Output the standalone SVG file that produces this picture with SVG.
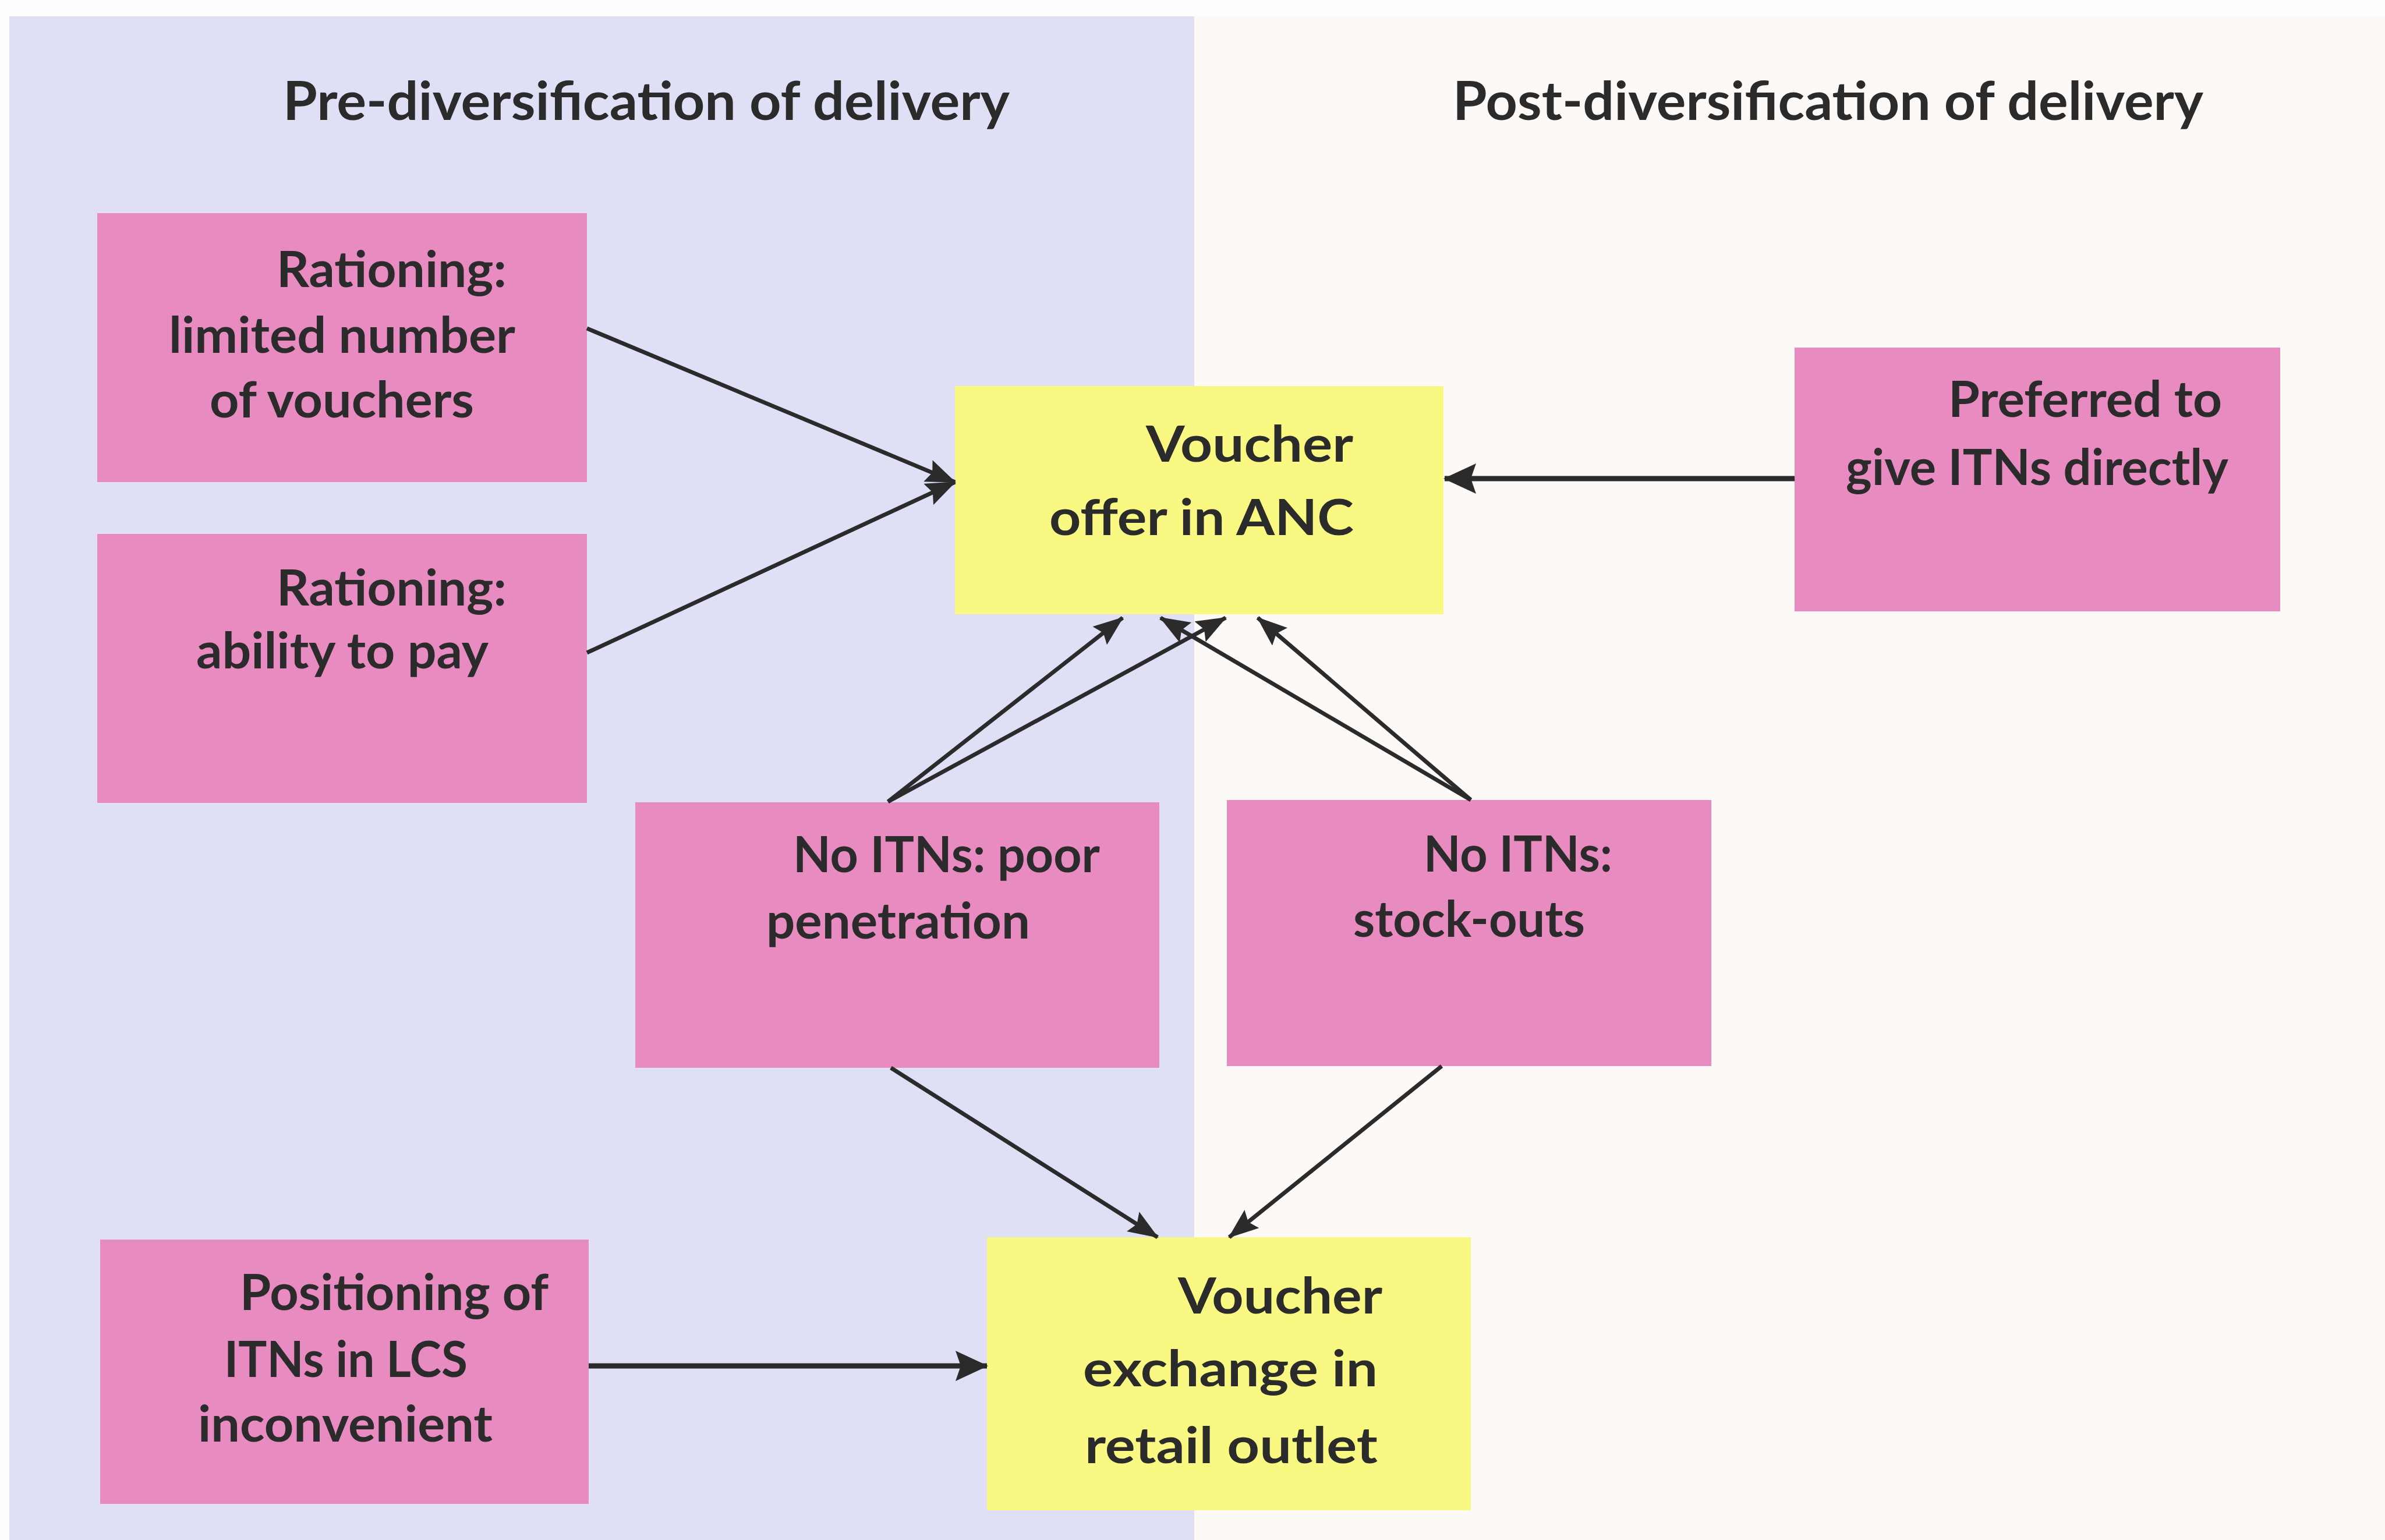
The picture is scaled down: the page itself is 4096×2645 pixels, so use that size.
<svg xmlns="http://www.w3.org/2000/svg" width="4096" height="2645" viewBox="0 0 4096 2645">
  <style>
    .pink { fill: #e88bc1; }
    .yellow { fill: #f9f883; }
    .lbl { font-family: Lato, "Liberation Sans", sans-serif; font-weight: 700; font-size: 87px; fill: #2b2b2b; }
    .title { font-family: Lato, "Liberation Sans", sans-serif; font-weight: 700; font-size: 91px; fill: #2b2b2b; }
    .edge { stroke: #2b2b2b; stroke-width: 7; fill: none; marker-end: url(#ah); }
    .edge.heavy { stroke-width: 9; marker-end: url(#ahL); }
  </style>
  <defs>
    <marker id="ah" markerUnits="userSpaceOnUse" markerWidth="52" markerHeight="40" viewBox="0 0 52 40" refX="50" refY="20" orient="auto">
      <path d="M0,0 L52,20 L0,40 L8,20 z" fill="#2b2b2b"/>
    </marker>
    <marker id="ahL" markerUnits="userSpaceOnUse" markerWidth="56" markerHeight="52" viewBox="0 0 56 52" refX="54" refY="26" orient="auto">
      <path d="M0,0 L56,26 L0,52 L9,26 z" fill="#2b2b2b"/>
    </marker>
  </defs>

  <!-- page and the two panels -->
  <rect x="0" y="0" width="4096" height="2645" fill="#fdfdfd"/>
  <rect x="16" y="28" width="2035" height="2617" fill="#dfe0f6"/>
  <rect x="2051" y="28" width="2045" height="2617" fill="#fcf9f6"/>

  <!-- panel headings -->
  <g id="headings">
    <text class="title" x="486" y="206" textLength="1248" lengthAdjust="spacingAndGlyphs">Pre-diversification of delivery</text>
    <text class="title" x="2495" y="206" textLength="1289" lengthAdjust="spacingAndGlyphs">Post-diversification of delivery</text>
  </g>

  <g id="rationing-vouchers">
    <rect class="pink" x="167" y="366" width="841" height="462"/>
    <text class="lbl" x="475" y="493" textLength="395" lengthAdjust="spacingAndGlyphs">Rationing:</text>
    <text class="lbl" x="290" y="606" textLength="595" lengthAdjust="spacingAndGlyphs">limited number</text>
    <text class="lbl" x="360" y="717" textLength="454" lengthAdjust="spacingAndGlyphs">of vouchers</text>
  </g>

  <g id="rationing-pay">
    <rect class="pink" x="167" y="917" width="841" height="462"/>
    <text class="lbl" x="475" y="1040" textLength="395" lengthAdjust="spacingAndGlyphs">Rationing:</text>
    <text class="lbl" x="337" y="1148" textLength="502" lengthAdjust="spacingAndGlyphs">ability to pay</text>
  </g>

  <g id="voucher-anc">
    <rect class="yellow" x="1640" y="663" width="839" height="392"/>
    <text class="lbl" x="1968" y="793" textLength="356" lengthAdjust="spacingAndGlyphs">Voucher</text>
    <text class="lbl" x="1802" y="919" textLength="523" lengthAdjust="spacingAndGlyphs">offer in ANC</text>
  </g>

  <g id="preferred-direct">
    <rect class="pink" x="3082" y="597" width="834" height="453"/>
    <text class="lbl" x="3346" y="716" textLength="470" lengthAdjust="spacingAndGlyphs">Preferred to</text>
    <text class="lbl" x="3170" y="833" textLength="657" lengthAdjust="spacingAndGlyphs">give ITNs directly</text>
  </g>

  <g id="no-itns-penetration">
    <rect class="pink" x="1091" y="1378" width="900" height="456"/>
    <text class="lbl" x="1362" y="1498" textLength="527" lengthAdjust="spacingAndGlyphs">No ITNs: poor</text>
    <text class="lbl" x="1316" y="1612" textLength="453" lengthAdjust="spacingAndGlyphs">penetration</text>
  </g>

  <g id="no-itns-stockouts">
    <rect class="pink" x="2107" y="1374" width="832" height="457"/>
    <text class="lbl" x="2445" y="1497" textLength="324" lengthAdjust="spacingAndGlyphs">No ITNs:</text>
    <text class="lbl" x="2324" y="1609" textLength="398" lengthAdjust="spacingAndGlyphs">stock-outs</text>
  </g>

  <g id="lcs-positioning">
    <rect class="pink" x="172" y="2129" width="839" height="454"/>
    <text class="lbl" x="412" y="2250" textLength="530" lengthAdjust="spacingAndGlyphs">Positioning of</text>
    <text class="lbl" x="385" y="2365" textLength="418" lengthAdjust="spacingAndGlyphs">ITNs in LCS</text>
    <text class="lbl" x="340" y="2476" textLength="506" lengthAdjust="spacingAndGlyphs">inconvenient</text>
  </g>

  <g id="voucher-retail">
    <rect class="yellow" x="1695" y="2125" width="831" height="469"/>
    <text class="lbl" x="2023" y="2256" textLength="351" lengthAdjust="spacingAndGlyphs">Voucher</text>
    <text class="lbl" x="1860" y="2381" textLength="506" lengthAdjust="spacingAndGlyphs">exchange in</text>
    <text class="lbl" x="1863" y="2513" textLength="503" lengthAdjust="spacingAndGlyphs">retail outlet</text>
  </g>

  <!-- causal links -->
  <g id="connectors">
    <path class="edge" d="M1008,564 L1640,828"/>
    <path class="edge" d="M1008,1121 L1640,828"/>
    <path class="edge heavy" d="M3082,822 L2481,822"/>
    <path class="edge" d="M1525,1377 L1928,1061"/>
    <path class="edge" d="M1525,1377 L2105,1061"/>
    <path class="edge" d="M2526,1374 L1993,1061"/>
    <path class="edge" d="M2526,1374 L2160,1061"/>
    <path class="edge" d="M1530,1834 L1988,2125"/>
    <path class="edge" d="M2476,1831 L2111,2125"/>
    <path class="edge heavy" d="M1011,2346 L1695,2346"/>
  </g>
</svg>
